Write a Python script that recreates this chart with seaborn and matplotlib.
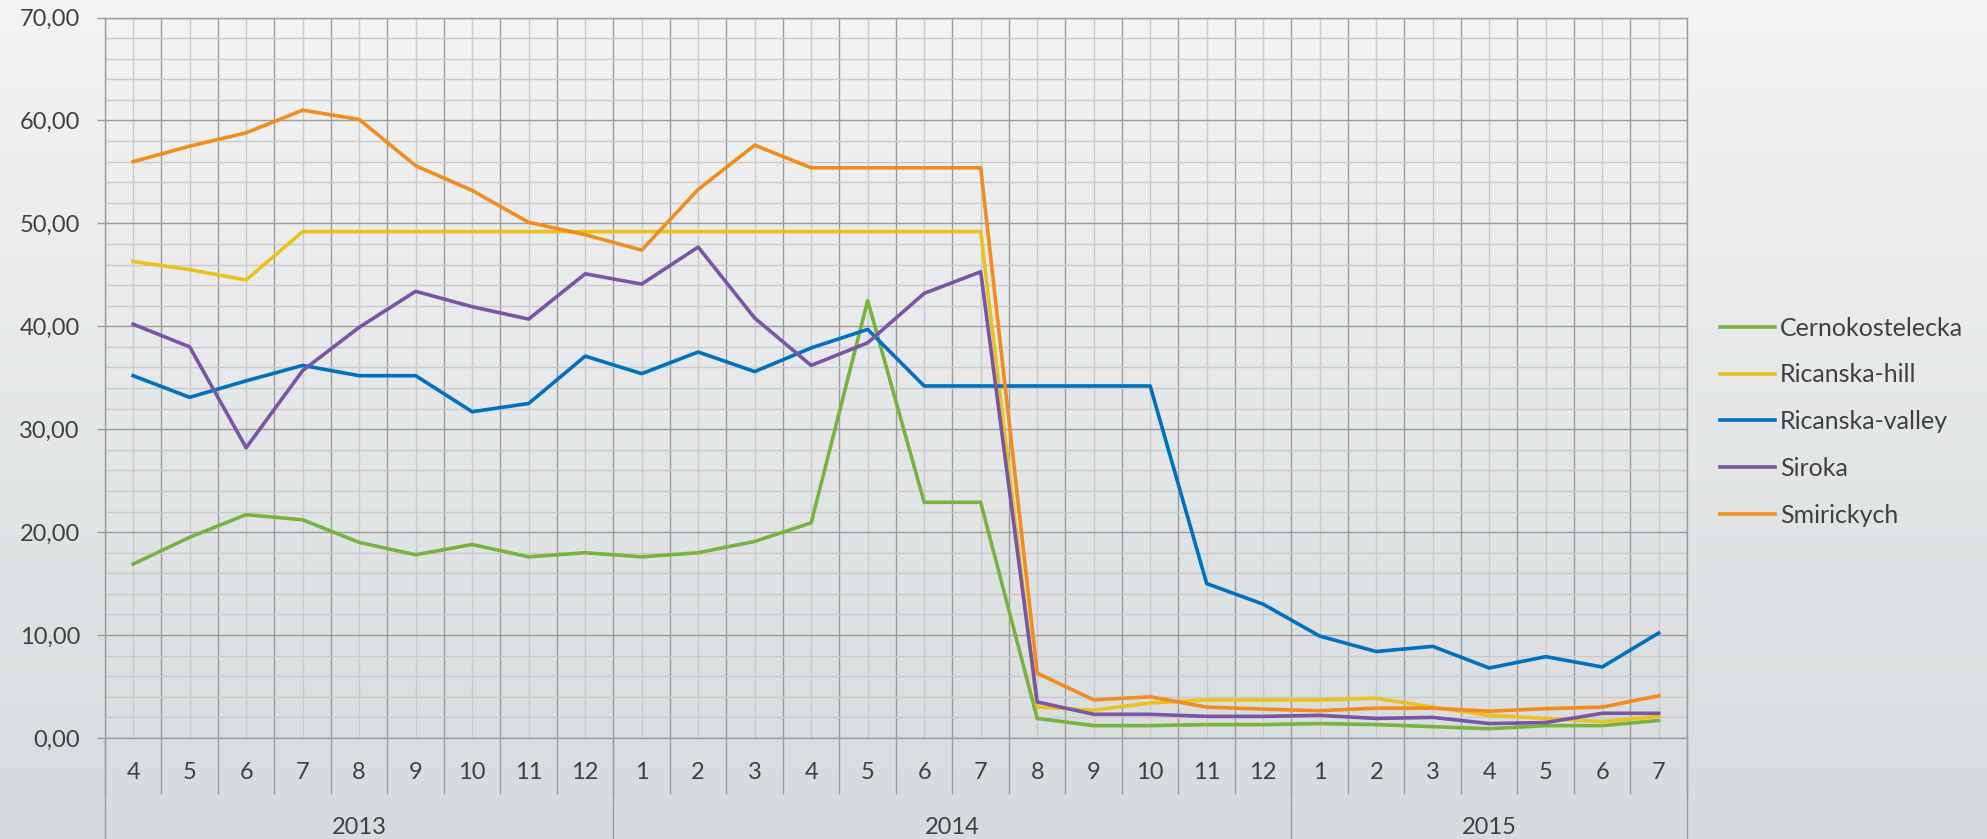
import numpy as np
import pandas as pd
import matplotlib
matplotlib.use("Agg")
import matplotlib.pyplot as plt
from matplotlib.colors import LinearSegmentedColormap
import seaborn as sns

# data
months = [4, 5, 6, 7, 8, 9, 10, 11, 12,
          1, 2, 3, 4, 5, 6, 7, 8, 9, 10, 11, 12,
          1, 2, 3, 4, 5, 6, 7]
years = ["2013", "2014", "2015"]
year_len = [9, 12, 7]

sites = ["Cernokostelecka", "Ricanska-hill", "Ricanska-valley", "Siroka", "Smirickych"]
colors = ["#77b43f", "#e9c21e", "#0070c0", "#7855a5", "#f28c1e"]

cerno = [16.9, 19.5, 21.7, 21.2, 19.0, 17.8, 18.8, 17.6, 18.0,
         17.6, 18.0, 19.1, 20.9, 42.5, 22.9, 22.9, 1.9, 1.2, 1.2, 1.3, 1.3,
         1.4, 1.3, 1.1, 0.9, 1.2, 1.2, 1.7]
hill = [46.3, 45.5, 44.5, 49.2, 49.2, 49.2, 49.2, 49.2, 49.2,
        49.2, 49.2, 49.2, 49.2, 49.2, 49.2, 49.2, 3.0, 2.7, 3.4, 3.7, 3.7,
        3.7, 3.85, 3.0, 2.2, 1.9, 1.6, 2.1]
valley = [35.2, 33.1, 34.7, 36.2, 35.2, 35.2, 31.7, 32.5, 37.1,
          35.4, 37.5, 35.6, 37.9, 39.7, 34.2, 34.2, 34.2, 34.2, 34.2, 15.0, 13.0,
          9.9, 8.4, 8.9, 6.8, 7.9, 6.9, 10.2]
siroka = [40.2, 38.0, 28.2, 35.7, 39.9, 43.4, 41.9, 40.7, 45.1,
          44.1, 47.7, 40.8, 36.2, 38.4, 43.2, 45.3, 3.5, 2.3, 2.3, 2.1, 2.1,
          2.2, 1.9, 2.0, 1.4, 1.5, 2.4, 2.4]
smir = [56.0, 57.5, 58.8, 61.0, 60.1, 55.6, 53.2, 50.1, 48.9,
        47.4, 53.3, 57.6, 55.4, 55.4, 55.4, 55.4, 6.3, 3.7, 4.0, 3.0, 2.8,
        2.65, 2.9, 2.9, 2.6, 2.85, 3.0, 4.1]

series = [cerno, hill, valley, siroka, smir]
idx = np.arange(len(months))
df = pd.concat([pd.DataFrame({"idx": idx, "value": s, "site": name})
                for name, s in zip(sites, series)], ignore_index=True)

plt.rcParams["font.family"] = ["Lato", "DejaVu Sans"]
txt = "#404040"
dark = "#9c9c9c"
light = "#cacaca"

fig = plt.figure(figsize=(19.87, 8.39), dpi=100)

# gradient background
bg = fig.add_axes([0, 0, 1, 1], zorder=-10)
bg.imshow(np.linspace(0, 1, 256).reshape(-1, 1), aspect="auto",
          cmap=LinearSegmentedColormap.from_list("bg", ["#f3f4f4", "#d7dbdd"]),
          extent=[0, 1, 0, 1])
bg.axis("off")

ax = fig.add_axes([0.0528, 0.1204, 0.7962, 0.8587])
ax.set_facecolor("none")
sns.lineplot(data=df, x="idx", y="value", hue="site", hue_order=sites,
             palette=colors, linewidth=2.6, ax=ax)

ax.set_xlim(-0.5, len(months) - 0.5)
ax.set_ylim(0, 70)
ax.set_xlabel("")
ax.set_ylabel("")
ax.set_axisbelow(True)

# x: boundaries as major, month labels on minor
ax.set_xticks(np.arange(-0.5, len(months), 1))
ax.set_xticklabels([])
ax.set_xticks(idx, minor=True)
ax.set_xticklabels([str(m) for m in months], minor=True)
ax.tick_params(axis="x", which="major", length=40, width=1, color=dark)
ax.tick_params(axis="x", which="minor", length=0, pad=17, labelsize=17, labelcolor=txt)

# y
yt = np.arange(0, 71, 10)
ax.set_yticks(yt)
ax.set_yticklabels([f"{v:.2f}".replace(".", ",") for v in yt])
ax.set_yticks(np.arange(0, 71, 2), minor=True)
ax.tick_params(axis="y", which="major", length=6, width=1, color=dark, pad=12,
               labelsize=17, labelcolor=txt)
ax.tick_params(axis="y", which="minor", length=0)

ax.grid(which="major", color=dark, lw=1.0)
ax.grid(which="minor", color=light, lw=1.0)
for sp in ax.spines.values():
    sp.set_color(dark)
    sp.set_linewidth(1.0)

# year row
sec = ax.secondary_xaxis("bottom")
bounds = np.cumsum([0] + year_len) - 0.5
sec.set_xticks(bounds)
sec.set_xticklabels([])
centers = (bounds[:-1] + bounds[1:]) / 2
sec.set_xticks(centers, minor=True)
sec.set_xticklabels(years, minor=True)
sec.tick_params(which="major", length=80, width=1, color=dark)
sec.tick_params(which="minor", length=0, pad=57, labelsize=17, labelcolor=txt)
sec.spines["bottom"].set_visible(False)

# legend
handles, labels = ax.get_legend_handles_labels()
ax.get_legend().remove()
fig.legend(handles, labels, loc="center left", bbox_to_anchor=(0.8656, 0.4976),
           frameon=False, fontsize=18, handlelength=2.2, handletextpad=0.2,
           labelspacing=0.95, borderpad=0, borderaxespad=0, labelcolor=txt)

fig.savefig("out.png", dpi=100)
